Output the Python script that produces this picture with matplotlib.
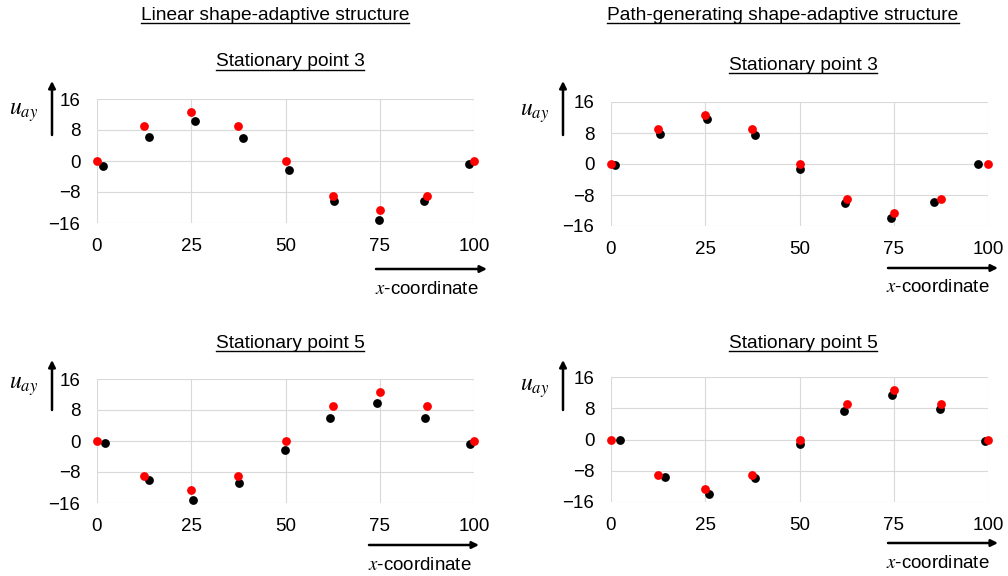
import matplotlib
matplotlib.use('Agg')
import matplotlib.pyplot as plt
from matplotlib.lines import Line2D

plt.rcParams['font.family'] = ['Liberation Sans', 'DejaVu Sans']
plt.rcParams['mathtext.fontset'] = 'stix'

# Datos: posiciones en x y desplazamientos u_ay
x_ref = [0, 12.5, 25, 37.5, 50, 62.5, 75, 87.5, 100]
u_ref_sp3 = [0, 9.0, 12.7, 9.0, 0, -9.0, -12.7, -9.0, 0]
u_ref_sp5 = [0, -9.0, -12.7, -9.0, 0, 9.0, 12.7, 9.0, 0]

# Estructura lineal, punto estacionario 3
x_lin_sp3 = [1.5, 13.7, 26.1, 38.7, 50.8, 62.8, 74.8, 86.7, 98.8]
u_lin_sp3 = [-1.3, 6.1, 10.4, 6.0, -2.2, -10.4, -15.1, -10.2, -0.9]
# Estructura generadora de trayectoria, punto estacionario 3
x_path_sp3 = [1.1, 13.0, 25.5, 38.1, 50.0, 62.1, 74.2, 85.8, 97.3]
u_path_sp3 = [-0.3, 7.8, 11.6, 7.6, -1.2, -10.1, -14.0, -9.7, -0.1]
# Estructura lineal, punto estacionario 5
x_lin_sp5 = [2.0, 13.8, 25.5, 37.6, 49.8, 61.9, 74.4, 86.9, 98.9]
u_lin_sp5 = [-0.6, -10.1, -15.3, -10.8, -2.2, 5.9, 9.8, 6.0, -0.9]
# Estructura generadora de trayectoria, punto estacionario 5
x_path_sp5 = [2.4, 14.2, 25.9, 38.1, 50.0, 61.9, 74.5, 87.2, 99.2]
u_path_sp5 = [-0.2, -9.6, -13.9, -9.8, -1.1, 7.4, 11.4, 7.8, -0.3]

x_ticks = [0, 25, 50, 75, 100]
y_ticks = [-16, -8, 0, 8, 16]

W, H = 1008, 576
fig = plt.figure(figsize=(W / 100, H / 100), dpi=100)


def fx(px):
    return px / W


def fy(py):
    return 1 - py / H


paneles = [
    # (izq, arriba, der, abajo) en pixeles, datos
    ((97, 99, 474, 223), x_lin_sp3, u_lin_sp3, u_ref_sp3),
    ((611, 102, 988, 226), x_path_sp3, u_path_sp3, u_ref_sp3),
    ((97, 379, 474, 503), x_lin_sp5, u_lin_sp5, u_ref_sp5),
    ((611, 377, 988, 502), x_path_sp5, u_path_sp5, u_ref_sp5),
]

for (l, t, r, b), xs, us, uref in paneles:
    ax = fig.add_axes([fx(l), fy(b), (r - l) / W, (b - t) / H])
    ax.scatter(xs, us, s=40, color='black', zorder=3, clip_on=False, linewidths=0)
    ax.scatter(x_ref, uref, s=40, color='#ff0000', zorder=4, clip_on=False, linewidths=0)
    ax.set_xlim(0, 100)
    ax.set_ylim(-16, 16)
    ax.set_xticks(x_ticks)
    ax.set_yticks(y_ticks)
    ax.grid(True, color='#d9d9d9', linewidth=0.8)
    ax.set_axisbelow(True)
    for s in ax.spines.values():
        s.set_visible(False)
    ax.tick_params(length=0, labelsize=13.5, pad=11)
    ax.tick_params(axis='y', pad=12)

# Textos subrayados
textos = [
    ('Linear shape-adaptive structure', 275, 15),
    ('Path-generating shape-adaptive structure', 783, 15),
    ('Stationary point 3', 290, 62),
    ('Stationary point 3', 803, 65),
    ('Stationary point 5', 290, 343),
    ('Stationary point 5', 803, 343),
]
objs = []
for txt, px, py in textos:
    objs.append(fig.text(fx(px), fy(py), txt, ha='center', va='center', fontsize=13.8))

fig.canvas.draw()
renderer = fig.canvas.get_renderer()
for o in objs:
    bb = o.get_window_extent(renderer)
    ybase = bb.y0 + 1
    fig.add_artist(Line2D([bb.x0 / W, bb.x1 / W], [ybase / H, ybase / H],
                          transform=fig.transFigure, color='black', linewidth=1.0))

# Etiquetas y flechas de ejes
for ux, uy, axx, ay0, ay1 in [(24, 112, 52, 135, 81), (535, 113, 563, 135, 81),
                              (24, 386, 52, 410, 360), (535, 388, 563, 410, 360)]:
    fig.text(fx(ux), fy(uy), '$u_{ay}$', ha='center', va='center', fontsize=17)
    fig.add_artist(plt.Annotation('', xy=(fx(axx), fy(ay1)), xytext=(fx(axx), fy(ay0)),
                                  xycoords='figure fraction', textcoords='figure fraction',
                                  arrowprops=dict(arrowstyle='-|>', color='black', lw=1.8,
                                                  mutation_scale=10, shrinkA=0, shrinkB=0)))

for x0, x1, ay, lx, ly in [(376, 487, 269, 427, 290), (888, 998, 268, 938, 288),
                           (369, 479, 545, 420, 565), (888, 998, 543, 938, 563)]:
    fig.add_artist(plt.Annotation('', xy=(fx(x1), fy(ay)), xytext=(fx(x0), fy(ay)),
                                  xycoords='figure fraction', textcoords='figure fraction',
                                  arrowprops=dict(arrowstyle='-|>', color='black', lw=1.8,
                                                  mutation_scale=10, shrinkA=0, shrinkB=0)))
    fig.text(fx(lx), fy(ly), '$x$-coordinate', ha='center', va='center', fontsize=13.5)

fig.savefig('out.png', dpi=100)
